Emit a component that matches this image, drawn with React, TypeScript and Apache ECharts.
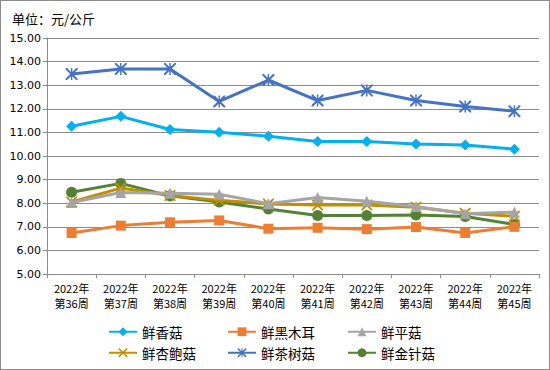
import React, { useEffect, useRef } from "react";
import * as echarts from "echarts";

const categories = [
  "2022年\n第36周", "2022年\n第37周", "2022年\n第38周", "2022年\n第39周", "2022年\n第40周",
  "2022年\n第41周", "2022年\n第42周", "2022年\n第43周", "2022年\n第44周", "2022年\n第45周",
];
const seriesNames = ["鲜香菇", "鲜黑木耳", "鲜平菇", "鲜杏鲍菇", "鲜茶树菇", "鲜金针菇"];
const xiangGu = [11.26, 11.68, 11.12, 11.01, 10.84, 10.61, 10.61, 10.51, 10.47, 10.29];
const heiMuEr = [6.74, 7.05, 7.19, 7.27, 6.92, 6.96, 6.9, 6.99, 6.74, 7.0];
const pingGu = [8.03, 8.45, 8.42, 8.38, 7.98, 8.24, 8.08, 7.86, 7.55, 7.62];
const xingBaoGu = [8.05, 8.64, 8.33, 8.12, 7.97, 7.92, 7.92, 7.83, 7.57, 7.45];
const chaShuGu = [13.47, 13.69, 13.69, 12.31, 13.22, 12.35, 12.78, 12.35, 12.1, 11.9];
const jinZhenGu = [8.46, 8.84, 8.31, 8.05, 7.75, 7.48, 7.48, 7.5, 7.44, 7.1];
const yTicks = { min: 5, max: 15, interval: 1 };

const colors = ["#00B0F0", "#ED7D31", "#A5A5A5", "#BF9000", "#4472C4", "#548235"];
const crossPath =
  "path://M0,0 L1.2,0 L5,3.8 L8.8,0 L10,0 L10,1.2 L6.2,5 L10,8.8 L10,10 L8.8,10 L5,6.2 L1.2,10 L0,10 L0,8.8 L3.8,5 L0,1.2 Z";
const starPath =
  "path://M0,0 L1.2,0 L5,3.8 L8.8,0 L10,0 L10,1.2 L6.2,5 L10,8.8 L10,10 L8.8,10 L5,6.2 L1.2,10 L0,10 L0,8.8 L3.8,5 L0,1.2 Z M4.4,0 L5.6,0 L5.6,10 L4.4,10 Z";
const symbols = ["diamond", "rect", "triangle", crossPath, starPath, "circle"];
const symbolSizes = [11, 10, 11, 11, 12, 11];
const dataSets = [xiangGu, heiMuEr, pingGu, xingBaoGu, chaShuGu, jinZhenGu];

export default function App() {
  const ref = useRef<HTMLDivElement>(null);
  useEffect(() => {
    if (!ref.current) return;
    const chart = echarts.init(ref.current, null, { renderer: "svg" });
    const legendPos = [
      [107, 324], [226, 324], [346, 324],
      [107, 345], [226, 345], [346, 345],
    ];
    chart.setOption({
      animation: false,
      color: colors,
      title: {
        text: "单位：元/公斤",
        left: 6,
        top: 6,
        textStyle: { fontSize: 13, fontWeight: "normal", color: "#000", fontFamily: "Noto Sans CJK SC" },
      },
      grid: { left: 46, right: 10, top: 37, bottom: 95, containLabel: false },
      legend: seriesNames.map((n, i) => ({
        data: [n],
        left: legendPos[i][0],
        top: legendPos[i][1],
        padding: 0,
        itemWidth: 28,
        itemHeight: 11,
        itemGap: 0,
        textStyle: { fontSize: 13.5, color: "#000", fontFamily: "Noto Sans CJK SC" },
      })),
      xAxis: {
        type: "category",
        data: categories,
        boundaryGap: true,
        axisLine: { lineStyle: { color: "#8c8c8c", width: 1 } },
        axisTick: { show: true, length: 4, lineStyle: { color: "#8c8c8c" } },
        axisLabel: {
          color: "#000",
          fontSize: 11,
          lineHeight: 15,
          margin: 6,
          interval: 0,
          fontFamily: "Noto Sans CJK SC",
        },
      },
      yAxis: {
        type: "value",
        min: yTicks.min,
        max: yTicks.max,
        interval: yTicks.interval,
        axisLine: { show: true, lineStyle: { color: "#8c8c8c", width: 1 } },
        axisTick: { show: true, length: 4, lineStyle: { color: "#8c8c8c" } },
        splitLine: { lineStyle: { color: "#8c8c8c", width: 1 } },
        axisLabel: {
          color: "#000",
          fontSize: 11,
          margin: 6,
          fontFamily: "DejaVu Sans",
          formatter: (v: number) => v.toFixed(2),
        },
      },
      series: seriesNames.map((n, i) => ({
        name: n,
        type: "line",
        data: dataSets[i],
        symbol: symbols[i],
        symbolSize: symbolSizes[i],
        showAllSymbol: true,
        lineStyle: { width: 3, color: colors[i] },
        itemStyle: { color: colors[i] },
        z: 10 - i,
      })),
    });
    return () => chart.dispose();
  }, []);
  return (
    <div
      style={{
        position: "absolute",
        left: 0,
        top: 0,
        width: 550,
        height: 370,
        boxSizing: "border-box",
        border: "1px solid #8c8c8c",
        background: "#fff",
      }}
    >
      <div ref={ref} style={{ width: 548, height: 368 }} />
    </div>
  );
}
